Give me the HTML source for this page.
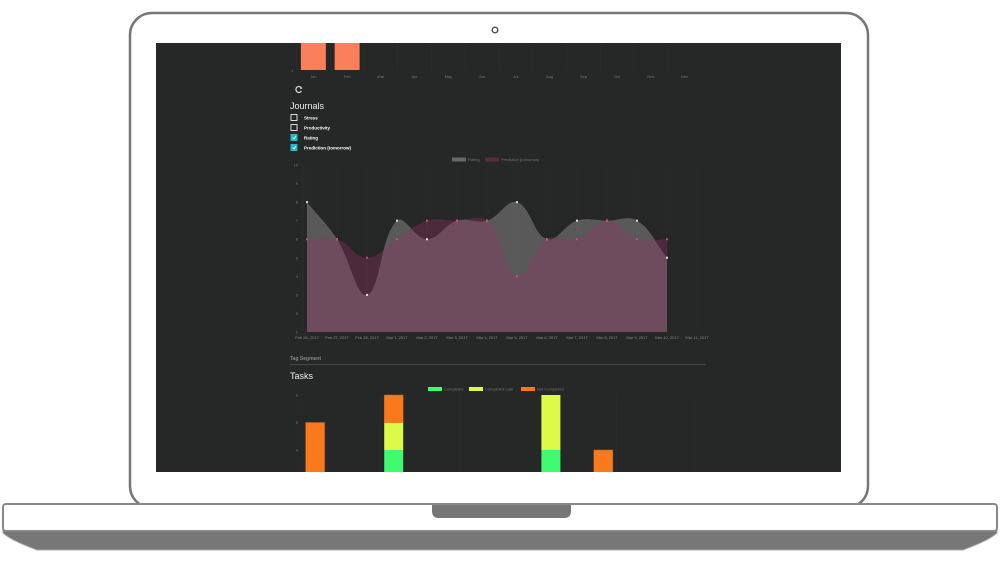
<!DOCTYPE html>
<html><head><meta charset="utf-8"><style>
html,body{margin:0;padding:0;background:#fff;}
svg{display:block;font-family:"Liberation Sans",sans-serif;}
</style></head><body>
<svg width="1000" height="567" viewBox="0 0 1000 567">
  <rect x="130" y="13" width="738" height="495" rx="22" fill="#fff" stroke="#777" stroke-width="2.5"/>
  <circle cx="495" cy="30" r="2.8" fill="#fff" stroke="#555" stroke-width="1.5"/>
  <path d="M3 530 L997 530 L997 533 Q990 540 963 550 L37 550 Q10 540 3 533 Z" fill="#777" stroke="#aaa" stroke-width="1"/>
  <rect x="3" y="504" width="994" height="27" rx="3" fill="#fff" stroke="#888" stroke-width="2"/>
  <path d="M432 505 L571 505 L571 511 Q571 518 564 518 L439 518 Q432 518 432 511 Z" fill="#777"/>
  <rect x="156" y="43" width="685" height="429" fill="#262727"/>
  <g id="top"></g>
  <g><path d="M301.5 88 A3 3 0 1 0 301.5 91" fill="none" stroke="#ddd" stroke-width="1.2"/><path d="M300 86.5 L302.5 88 L300.5 89.5Z" fill="#ddd"/></g>
  <text x="290" y="109" fill="#eee" font-size="9">Journals</text>
  <g id="checks"></g>
  <g id="line"></g>
  <text x="290" y="360" fill="#888" font-size="5" font-weight="bold">Tag Segment</text>
  <line x1="290" y1="364.5" x2="706" y2="364.5" stroke="#555" stroke-width="0.8"/>
  <text x="290" y="379" fill="#eee" font-size="9">Tasks</text>
  <g id="tasks"></g>
</svg>
<script>
const NS="http://www.w3.org/2000/svg";
function mk(tag,attrs,parent){const e=document.createElementNS(NS,tag);for(const k in attrs)e.setAttribute(k,attrs[k]);parent.appendChild(e);return e;}

// ---- top month bar chart ----
const months=["Jan","Feb","Mar","Apr","May","Jun","Jul","Aug","Sep","Oct","Nov","Dec"];
const monthValues=[2,2,0,0,0,0,0,0,0,0,0,0];
const topG=document.getElementById('top');
(function(){
  const x0=296.5,w=33.75,yBase=70,unit=40;
  const clip=mk('clipPath',{id:'scr'},topG);mk('rect',{x:156,y:43,width:685,height:429},clip);
  const g=mk('g',{'clip-path':'url(#scr)'},topG);
  const yl=mk('text',{x:291,y:72,fill:'#777','font-size':4},topG);yl.textContent='1';
  
  
  months.forEach((m,i)=>{
    const cx=x0+w*i+w/2;
    mk('line',{x1:x0+w*i,y1:43,x2:x0+w*i,y2:yBase,stroke:'#2f3030','stroke-width':0.6},g);
    const t=mk('text',{x:cx,y:78,fill:'#777','font-size':4,'text-anchor':'middle'},topG);t.textContent=m;
    
    
    if(monthValues[i]>0){
      const h=monthValues[i]*unit;
      const r=mk('rect',{x:cx-12.5,y:yBase-h,width:25,height:h,fill:'#f97e5a'},g);
      
      
    }
  });
})();

// ---- checkboxes ----
const checkLabels=["Stress","Productivity","Rating","Prediction (tomorrow)"];
const checkStates=[false,false,true,true];
const cg=document.getElementById('checks');
checkLabels.forEach((l,i)=>{
  const y=114.5+i*10;
  const b=mk('rect',{x:291,y:y,width:6,height:6,fill:checkStates[i]?'#26b5c6':'none',stroke:checkStates[i]?'#26b5c6':'#ddd','stroke-width':1},cg);
  
  
  if(checkStates[i])mk('path',{d:`M292.5 ${y+3} L294 ${y+4.5} L296 ${y+1.5}`,fill:'none',stroke:'#fff','stroke-width':0.8},cg);
  const t=mk('text',{x:304,y:y+5,fill:'#fff','font-size':4.5,'font-weight':'bold'},cg);t.textContent=l;
  
  
});

// ---- line chart ----
const dates=["Feb 26, 2017","Feb 27, 2017","Feb 28, 2017","Mar 1, 2017","Mar 2, 2017","Mar 3, 2017","Mar 4, 2017","Mar 5, 2017","Mar 6, 2017","Mar 7, 2017","Mar 8, 2017","Mar 9, 2017","Mar 10, 2017","Mar 11, 2017"];
const rating=[8,6,3,7,6,7,7,8,6,7,7,7,5];
const prediction=[6,6,5,6,7,7,7,4,6,6,7,6,6];
const yTicks=[1,2,3,4,5,6,7,8,9,10];
const lg=document.getElementById('line');
const X=i=>307+i*30, Y=v=>332-(v-1)*(167/9);
function spline(vals){
  const p=vals.map((v,i)=>[X(i),Y(v)]);const t=0.4;let d=`M${p[0][0]} ${p[0][1]}`;
  const cps=p.map((c,i)=>{const pr=p[Math.max(i-1,0)],nx=p[Math.min(i+1,p.length-1)];
    const d01=Math.hypot(c[0]-pr[0],c[1]-pr[1]),d12=Math.hypot(nx[0]-c[0],nx[1]-c[1]);
    let fa=d01/(d01+d12||1),fb=d12/(d01+d12||1);fa*=t;fb*=t;
    return {p:[c[0]-fa*(nx[0]-pr[0]),c[1]-fa*(nx[1]-pr[1])],n:[c[0]+fb*(nx[0]-pr[0]),c[1]+fb*(nx[1]-pr[1])]};});
  for(let i=1;i<p.length;i++){d+=` C${cps[i-1].n[0]} ${cps[i-1].n[1]} ${cps[i].p[0]} ${cps[i].p[1]} ${p[i][0]} ${p[i][1]}`;}
  return d;
}
yTicks.forEach(v=>{const t=mk('text',{x:298,y:Y(v)+1.5,fill:'#777','font-size':4,'text-anchor':'end'},lg);t.textContent=v;
  
  });
dates.forEach((d,i)=>{mk('line',{x1:X(i),y1:165,x2:X(i),y2:332,stroke:'#2d2e2e','stroke-width':0.6},lg);
  const t=mk('text',{x:X(i),y:339,fill:'#888','font-size':4,'text-anchor':'middle'},lg);t.textContent=d;
  
  });
mk('line',{x1:303,y1:165,x2:303,y2:332,stroke:'#333','stroke-width':0.6},lg);
function area(vals,fill,name,ptc){
  const n=vals.length-1;
  const a=mk('path',{d:spline(vals)+` L${X(n)} ${Y(1)} L${X(0)} ${Y(1)} Z`,fill:fill},lg);
  
  
  return ptc;
}
area(rating,'rgba(140,140,140,0.5)','rating-area');
area(prediction,'rgba(150,50,100,0.35)','prediction-area');
rating.forEach((v,i)=>{const c=mk('rect',{x:X(i)-1,y:Y(v)-1,width:2,height:2,fill:'#ddd'},lg);
  
  });
prediction.forEach((v,i)=>{const c=mk('rect',{x:X(i)-1,y:Y(v)-1,width:2,height:2,fill:'#d0457e'},lg);
  
  });
[['Rating','#666',452],['Prediction (tomorrow)','#5a2a40',485]].forEach(([l,c,x])=>{
  const r=mk('rect',{x:x,y:157.5,width:14,height:4,fill:c},lg);
  
  
  const t=mk('text',{x:x+16,y:161,fill:'#777','font-size':4},lg);t.textContent=l;
  
  
});

// ---- tasks stacked bar ----
const taskIdx=[0,3,9,11];
const completed=[0,4,4,0];
const completedLate=[0,1,2,0];
const notCompleted=[5,1,0,4];
const taskTicks=[3,4,5,6];
const tg=document.getElementById('tasks');
(function(){
  const clip=mk('clipPath',{id:'scr2'},tg);mk('rect',{x:156,y:43,width:685,height:429},clip);
  const g=mk('g',{'clip-path':'url(#scr2)'},tg);
  const TY=v=>395+(6-v)*27.5, TX=i=>302+i*26.2+13.1;
  taskTicks.forEach(v=>{const t=mk('text',{x:298,y:TY(v)+1.5,fill:'#777','font-size':4,'text-anchor':'end'},g);t.textContent=v;
    
    });
  for(let i=0;i<=15;i+=3)mk('line',{x1:302+i*26.2,y1:395,x2:302+i*26.2,y2:472,stroke:'#2d2e2e','stroke-width':0.6},g);
  taskIdx.forEach((ix,k)=>{
    let base=0;
    [[completed,'#40fa70','completed'],[completedLate,'#dcfa47','completed-late'],[notCompleted,'#f97a1c','not-completed']].forEach(([arr,col,nm])=>{
      const v=arr[k];if(v<=0)return;
      const r=mk('rect',{x:TX(ix)-9.5,y:TY(base+v),width:19,height:TY(base)-TY(base+v),fill:col,stroke:col==='#f97a1c'?'#c95a10':'none','stroke-width':0.5},g);
      
      
      base+=v;
    });
  });
  [['Completed','#40fa70',428],['Completed Late','#dcfa47',469],['Not Completed','#f97a1c',521]].forEach(([l,c,x])=>{
    const r=mk('rect',{x:x,y:387,width:14,height:4,fill:c},tg);
    
    
    const t=mk('text',{x:x+16,y:390.5,fill:'#777','font-size':4},tg);t.textContent=l;
    
    
  });
})();
</script>
</body></html>
